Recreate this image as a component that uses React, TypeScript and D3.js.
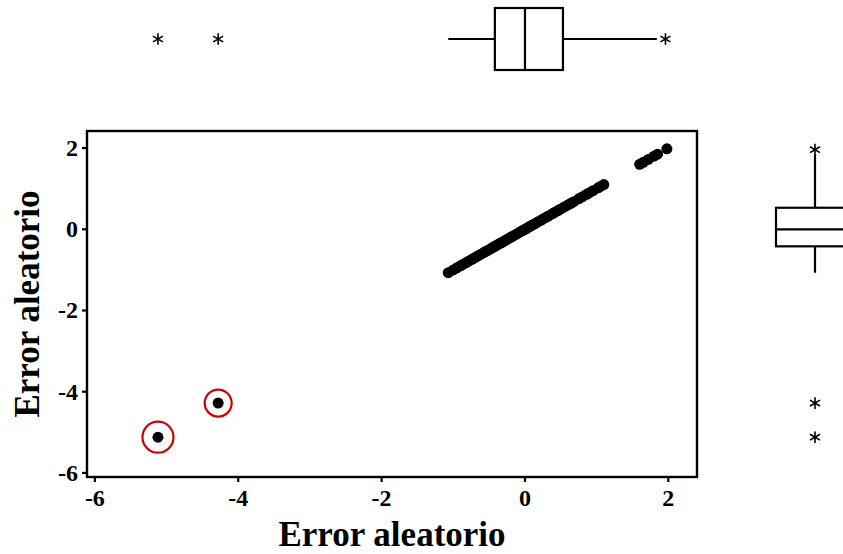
import React from "react";
import * as d3 from "d3";

// Random error values (plotted against themselves)
const errores: number[] = [
  -1.07, -1.0, -0.95, -0.9, -0.86, -0.82, -0.78, -0.74, -0.7, -0.66, -0.62,
  -0.58, -0.55, -0.52, -0.48, -0.45, -0.42, -0.39, -0.35, -0.32, -0.29, -0.26,
  -0.22, -0.19, -0.16, -0.12, -0.09, -0.06, -0.03, 0.0, 0.03, 0.06, 0.09, 0.12,
  0.15, 0.18, 0.22, 0.26, 0.3, 0.33, 0.38, 0.42, 0.46, 0.5, 0.55, 0.6, 0.64,
  0.68, 0.75, 0.8, 0.86, 0.9, 0.95, 1.02, 1.06, 1.1, 1.6, 1.65, 1.72, 1.8,
  1.85, 1.98, -4.28, -5.12,
];

// Highlighted atypical points
const atipicos: number[] = [-5.12, -4.28];

// Boxplot summary: [whisker low, Q1, median, Q3, whisker high]
const resumenCaja: number[] = [-1.07, -0.42, 0.0, 0.53, 1.84];
const valoresExtremos: number[] = [-5.12, -4.28, 1.96];

const ticks: number[] = [-6, -4, -2, 0, 2];
const tituloEje = "Error aleatorio";

const W = 843;
const H = 554;
const panel = { left: 87, right: 697, top: 131, bottom: 477 };

export default function App() {
  const x = d3.scaleLinear().domain([-6.11, 2.4]).range([panel.left, panel.right]);
  const y = d3.scaleLinear().domain([-6.1, 2.42]).range([panel.bottom, panel.top]);
  const font = "'Liberation Serif', 'Times New Roman', serif";
  const asterisco = d3.symbol(d3.symbolAsterisk, 95)() as string;

  const [wLo, q1, med, q3, wHi] = resumenCaja;
  // top (horizontal) boxplot
  const topCy = 39;
  const topHalf = 31;
  // right (vertical) boxplot
  const rightCx = 815;
  const rightHalf = 39;

  return (
    <svg
      width={W}
      height={H}
      style={{ position: "absolute", left: 0, top: 0, background: "#fff" }}
      fontFamily={font}
    >
      <rect width={W} height={H} fill="#fff" />

      {/* Top boxplot */}
      <g stroke="#000" strokeWidth={2.2} fill="none">
        <line x1={x(wLo)} x2={x(q1)} y1={topCy} y2={topCy} />
        <line x1={x(q3)} x2={x(wHi)} y1={topCy} y2={topCy} />
        <rect x={x(q1)} y={topCy - topHalf} width={x(q3) - x(q1)} height={topHalf * 2} />
        <line x1={x(med)} x2={x(med)} y1={topCy - topHalf} y2={topCy + topHalf} />
      </g>
      {valoresExtremos.map((v, i) => (
        <path
          key={"ta" + i}
          d={asterisco}
          transform={`translate(${x(v)},${topCy})`}
          fill="none"
          stroke="#000"
          strokeWidth={1.6}
        />
      ))}

      {/* Right boxplot */}
      <g stroke="#000" strokeWidth={2.2} fill="none">
        <line x1={rightCx} x2={rightCx} y1={y(wHi)} y2={y(q3)} />
        <line x1={rightCx} x2={rightCx} y1={y(q1)} y2={y(wLo)} />
        <rect x={rightCx - rightHalf} y={y(q3)} width={rightHalf * 2} height={y(q1) - y(q3)} />
        <line x1={rightCx - rightHalf} x2={rightCx + rightHalf} y1={y(med)} y2={y(med)} />
      </g>
      {valoresExtremos.map((v, i) => (
        <path
          key={"ra" + i}
          d={asterisco}
          transform={`translate(${rightCx},${y(v)})`}
          fill="none"
          stroke="#000"
          strokeWidth={1.6}
        />
      ))}

      {/* Scatter panel */}
      <rect
        x={panel.left}
        y={panel.top}
        width={panel.right - panel.left}
        height={panel.bottom - panel.top}
        fill="none"
        stroke="#000"
        strokeWidth={2.4}
      />
      {errores.map((v, i) => (
        <circle key={"p" + i} cx={x(v)} cy={y(v)} r={5.5} fill="#000" />
      ))}
      {atipicos.map((v, i) => (
        <circle
          key={"c" + i}
          cx={x(v)}
          cy={y(v)}
          r={i === 0 ? 15.5 : 13.5}
          fill="none"
          stroke="#cc0000"
          strokeWidth={2.2}
        />
      ))}

      {/* X axis */}
      {ticks.map((t) => (
        <g key={"xt" + t}>
          <line x1={x(t)} x2={x(t)} y1={panel.bottom} y2={panel.bottom + 5} stroke="#000" strokeWidth={2.2} />
          <text x={x(t)} y={panel.bottom + 29} textAnchor="middle" fontSize={24} fontWeight="bold" fill="#000">
            {t}
          </text>
        </g>
      ))}
      <text x={(panel.left + panel.right) / 2} y={546} textAnchor="middle" fontSize={35} fontWeight="bold" fill="#000">
        {tituloEje}
      </text>

      {/* Y axis */}
      {ticks.map((t) => (
        <g key={"yt" + t}>
          <line x1={panel.left - 5} x2={panel.left} y1={y(t)} y2={y(t)} stroke="#000" strokeWidth={2.2} />
          <text x={panel.left - 9} y={y(t) + 8} textAnchor="end" fontSize={24} fontWeight="bold" fill="#000">
            {t}
          </text>
        </g>
      ))}
      <text
        transform={`translate(39, ${(panel.top + panel.bottom) / 2}) rotate(-90)`}
        textAnchor="middle"
        fontSize={35}
        fontWeight="bold"
        fill="#000"
      >
        {tituloEje}
      </text>
    </svg>
  );
}
